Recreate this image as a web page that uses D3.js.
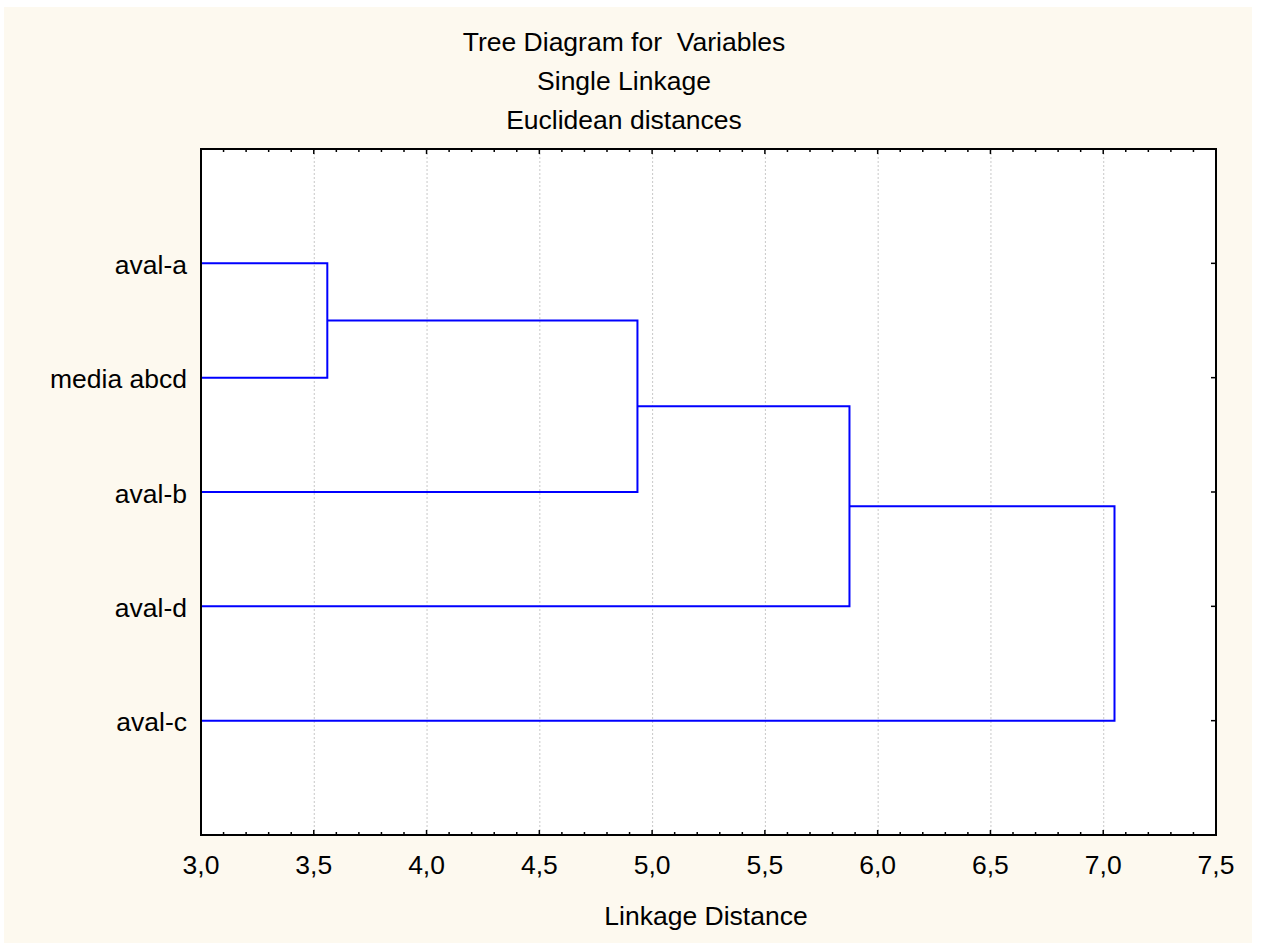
<html>
<head>
    <script src="https://d3js.org/d3.v7.min.js"></script>
    <style>
        body {
            margin: 0;
            background: #ffffff;
            font-family: Arial, "Liberation Sans", sans-serif;
        }

        text {
            font-family: Arial, "Liberation Sans", sans-serif;
            font-size: 26.5px;
            fill: #000;
            white-space: pre;
        }

        .grid line {
            stroke: #c8c8c8;
            stroke-dasharray: 2, 2;
        }

        .grid .domain {
            stroke: none;
        }
    </style>
</head>

<body>
    <svg width="1264" height="943"></svg>
    <script>
        // leaves, top to bottom
        const leaves = ["aval-a", "media abcd", "aval-b", "aval-d", "aval-c"];
        // each merge joins joinA with joinB at linkDist (c1, c2.. = earlier clusters)
        const joinA = ["aval-a", "c1", "c2", "c3"];
        const joinB = ["media abcd", "aval-b", "aval-d", "aval-c"];
        const linkDist = [3.56, 4.935, 5.875, 7.05];
        const xTicks = [3.0, 3.5, 4.0, 4.5, 5.0, 5.5, 6.0, 6.5, 7.0, 7.5];
        const titleLines = ["Tree Diagram for  Variables", "Single Linkage", "Euclidean distances"];
        const xTitle = "Linkage Distance";

        const width = 1264, height = 943;
        const plot = { left: 201, right: 1216, top: 149, bottom: 835 };

        const svg = d3.select("svg");

        // cream panel
        svg.append("rect")
            .attr("x", 4).attr("y", 7)
            .attr("width", 1248).attr("height", height - 7)
            .attr("fill", "#fdf9ef");

        svg.append("rect")
            .attr("x", plot.left).attr("y", plot.top)
            .attr("width", plot.right - plot.left).attr("height", plot.bottom - plot.top)
            .attr("fill", "#ffffff");

        const x = d3.scaleLinear().domain([3.0, 7.5]).range([plot.left, plot.right]);
        const y = d3.scalePoint().domain(leaves).range([plot.top, plot.bottom]).padding(1);

        // gridlines at major ticks (not at the edges)
        svg.append("g")
            .attr("class", "grid")
            .attr("transform", `translate(0,${plot.bottom})`)
            .call(d3.axisBottom(x).tickValues(xTicks.slice(1, -1)).tickSize(-(plot.bottom - plot.top)).tickFormat(""));

        // minor + major ticks, inward on top and bottom
        const minor = d3.range(31, 75).map(v => v / 10).filter(v => Math.round(v * 10) % 5 !== 0);
        const tickG = svg.append("g").attr("stroke", "#000").attr("stroke-width", 1.5);
        [plot.top, plot.bottom].forEach(yy => {
            const dir = yy === plot.top ? 1 : -1;
            tickG.selectAll(null).data(minor).join("line")
                .attr("x1", d => x(d)).attr("x2", d => x(d))
                .attr("y1", yy).attr("y2", yy + dir * 3);
            tickG.selectAll(null).data(xTicks).join("line")
                .attr("x1", d => x(d)).attr("x2", d => x(d))
                .attr("y1", yy).attr("y2", yy + dir * 5);
        });
        // right side ticks at leaves
        tickG.selectAll(null).data(leaves).join("line")
            .attr("x1", plot.right).attr("x2", plot.right - 5)
            .attr("y1", d => y(d)).attr("y2", d => y(d));

        // x tick labels
        svg.append("g").selectAll("text").data(xTicks).join("text")
            .attr("x", d => x(d))
            .attr("y", 874)
            .attr("text-anchor", "middle")
            .text(d => d.toFixed(1).replace(".", ","));

        // y labels
        svg.append("g").selectAll("text").data(leaves).join("text")
            .attr("x", 187)
            .attr("y", d => y(d) + 10.5)
            .attr("text-anchor", "end")
            .text(d => d);

        // build dendrogram positions
        const nodes = {};
        leaves.forEach(l => nodes[l] = { x: x.domain()[0], y: y(l) });
        const links = linkDist.map((dist, i) => {
            const a = nodes[joinA[i]], b = nodes[joinB[i]];
            nodes["c" + (i + 1)] = { x: dist, y: (a.y + b.y) / 2 };
            return { a, b, dist };
        });

        svg.append("g")
            .selectAll("path")
            .data(links)
            .join("path")
            .attr("fill", "none")
            .attr("stroke", "#0000ff")
            .attr("stroke-width", 2)
            .attr("d", d => {
                const p = d3.path();
                p.moveTo(x(d.a.x), d.a.y);
                p.lineTo(x(d.dist), d.a.y);
                p.lineTo(x(d.dist), d.b.y);
                p.lineTo(x(d.b.x), d.b.y);
                return p.toString();
            });

        // frame
        svg.append("rect")
            .attr("x", plot.left).attr("y", plot.top)
            .attr("width", plot.right - plot.left).attr("height", plot.bottom - plot.top)
            .attr("fill", "none")
            .attr("stroke", "#000")
            .attr("stroke-width", 2);

        // titles
        svg.append("g").selectAll("text").data(titleLines).join("text")
            .attr("x", 624)
            .attr("y", (d, i) => 51 + i * 39)
            .attr("text-anchor", "middle")
            .text(d => d);

        svg.append("text")
            .attr("x", 706)
            .attr("y", 925)
            .attr("text-anchor", "middle")
            .text(xTitle);
    </script>
</body>
</html>
